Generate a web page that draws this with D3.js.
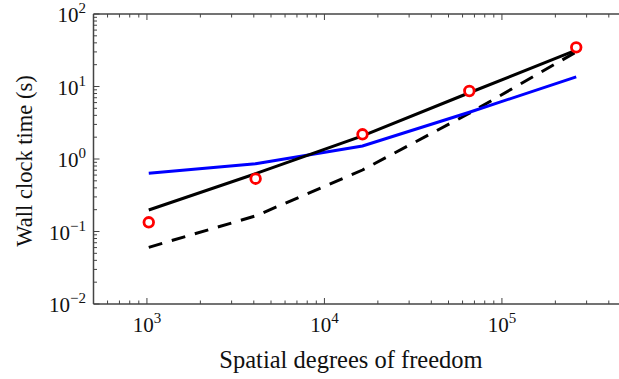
<!DOCTYPE html>
<html>
<head>
<meta charset="utf-8">
<script src="https://cdn.jsdelivr.net/npm/d3@7"></script>
<style>
  body { margin: 0; background: #fff; }
</style>
</head>
<body>
<svg id="chart" width="619" height="379"></svg>
<script>
// data *********************************************************************
var dof = [1024, 4096, 16384, 65536, 262144]          // spatial degrees of freedom
var measured = [0.134, 0.535, 2.19, 8.67, 34.7]        // red circles
var solidLine = [0.198, 0.627, 2.09, 8.2, 31.8]        // black solid
var blueLine = [0.635, 0.861, 1.51, 4.41, 13.6]        // blue solid
var dashedLine = [0.0605, 0.164, 0.705, 4.27, 30.0]    // black dashed

var xTickPowers = [3, 4, 5]
var yTickPowers = [-2, -1, 0, 1, 2]

var fontFam = "'Liberation Serif'"

var svg = d3.select("#chart")

// scales (right end of the axis runs past the picture edge)
var x = d3.scaleLog().domain([500, 500000]).range([93.5, 626])
var y = d3.scaleLog().domain([0.01, 100]).range([304, 14])

var axisCol = "#444"

// spines
svg.append("line").attr("x1", x.range()[0]).attr("x2", x.range()[1]).attr("y1", y(0.01)).attr("y2", y(0.01))
    .style("stroke", axisCol).style("stroke-width", 1.5)
svg.append("line").attr("x1", x.range()[0]).attr("x2", x.range()[1]).attr("y1", y(100)).attr("y2", y(100))
    .style("stroke", axisCol).style("stroke-width", 1.5)
svg.append("line").attr("x1", x.range()[0]).attr("x2", x.range()[0]).attr("y1", y(0.01)).attr("y2", y(100))
    .style("stroke", axisCol).style("stroke-width", 1.5)

// ticks, all pointing inwards
function isMajor(v) { return Math.abs(Math.log10(v) - Math.round(Math.log10(v))) < 1e-9 }

x.ticks().forEach(function(v){
    var len = isMajor(v) ? 6 : 3.5
    svg.append("line").attr("x1", x(v)).attr("x2", x(v)).attr("y1", y(0.01)).attr("y2", y(0.01) - len)
        .style("stroke", axisCol).style("stroke-width", 1)
    svg.append("line").attr("x1", x(v)).attr("x2", x(v)).attr("y1", y(100)).attr("y2", y(100) + len)
        .style("stroke", axisCol).style("stroke-width", 1)
})
y.ticks().forEach(function(v){
    var len = isMajor(v) ? 6 : 3.5
    svg.append("line").attr("x1", x.range()[0]).attr("x2", x.range()[0] + len).attr("y1", y(v)).attr("y2", y(v))
        .style("stroke", axisCol).style("stroke-width", 1)
})

// tick labels  10^n
xTickPowers.forEach(function(p){
    var t = svg.append("text").attr("x", x(Math.pow(10, p))).attr("y", 332)
        .attr("text-anchor", "middle").style("font-family", fontFam).style("font-size", "21px").style("fill", "#111")
    t.append("tspan").text("10")
    t.append("tspan").attr("dy", -9).style("font-size", "15px").text(String(p))
})
yTickPowers.forEach(function(p){
    var t = svg.append("text").attr("x", 86).attr("y", y(Math.pow(10, p)) + 8)
        .attr("text-anchor", "end").style("font-family", fontFam).style("font-size", "21px").style("fill", "#111")
    t.append("tspan").text("10")
    t.append("tspan").attr("dy", -9).style("font-size", "15px").text(String(p).replace("-", "\u2212"))
})

// axis titles
svg.append("text").attr("x", 351).attr("y", 368).attr("text-anchor", "middle").style("font-family", fontFam)
    .style("font-size", "24.5px").style("fill", "#111").text("Spatial degrees of freedom")
svg.append("text").attr("transform", "translate(32,161) rotate(-90)").attr("text-anchor", "middle").style("font-family", fontFam)
    .style("font-size", "22.5px").style("fill", "#111").text("Wall clock time (s)")

// lines
function makeLine(vals) {
    return d3.line().x(function(d, i){ return x(dof[i]) }).y(function(d){ return y(d) })(vals)
}
svg.append("path").attr("d", makeLine(dashedLine)).style("fill", "none").style("stroke", "black")
    .style("stroke-width", 3).style("stroke-dasharray", "14,10")
svg.append("path").attr("d", makeLine(blueLine)).style("fill", "none").style("stroke", "#0000ff")
    .style("stroke-width", 3)
svg.append("path").attr("d", makeLine(solidLine)).style("fill", "none").style("stroke", "black")
    .style("stroke-width", 3)

// measured points
svg.selectAll("circle.pt").data(measured).enter().append("circle").attr("class", "pt")
    .attr("cx", function(d, i){ return x(dof[i]) }).attr("cy", function(d){ return y(d) })
    .attr("r", 4.8).style("fill", "white").style("stroke", "#ff0000").style("stroke-width", 2.8)
</script>
</body>
</html>
